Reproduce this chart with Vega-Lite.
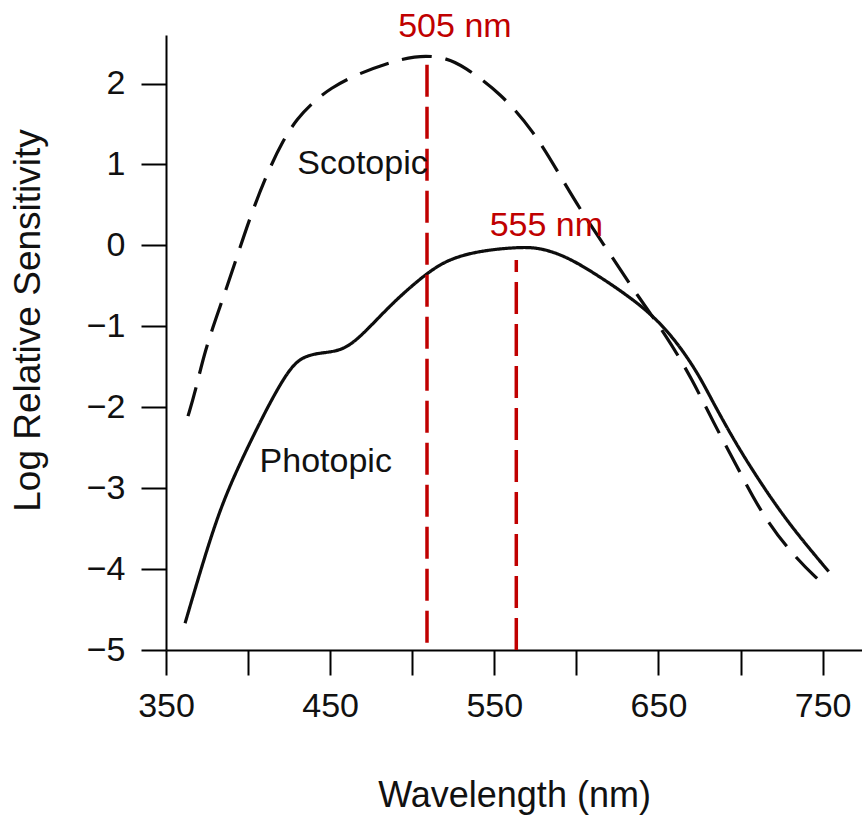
{
  "$schema": "https://vega.github.io/schema/vega-lite/v6.json",
  "width": 696,
  "height": 615,
  "autosize": "none",
  "padding": {"left": 166, "top": 35, "right": 0, "bottom": 165},
  "background": "white",
  "config": {
    "view": {"stroke": null},
    "font": "Liberation Sans",
    "axis": {"grid": false, "domainColor": "#000", "domainWidth": 2, "tickColor": "#000", "tickWidth": 2, "tickSize": 25, "labelColor": "#111", "titleColor": "#111", "labelFont": "Liberation Sans", "titleFont": "Liberation Sans", "labelFontSize": 34, "titleFontWeight": "normal", "labelFlush": false}
  },
  "datasets": {
    "curves": [
      {"series": "Photopic", "wl": 361.6, "val": -4.67},
      {"series": "Photopic", "wl": 372.6, "val": -3.91},
      {"series": "Photopic", "wl": 382.9, "val": -3.26},
      {"series": "Photopic", "wl": 393.3, "val": -2.77},
      {"series": "Photopic", "wl": 403, "val": -2.36},
      {"series": "Photopic", "wl": 413.4, "val": -1.94},
      {"series": "Photopic", "wl": 423.8, "val": -1.57},
      {"series": "Photopic", "wl": 431.7, "val": -1.39},
      {"series": "Photopic", "wl": 442, "val": -1.33},
      {"series": "Photopic", "wl": 456, "val": -1.31},
      {"series": "Photopic", "wl": 466.5, "val": -1.17},
      {"series": "Photopic", "wl": 482, "val": -0.84},
      {"series": "Photopic", "wl": 493, "val": -0.62},
      {"series": "Photopic", "wl": 509, "val": -0.34},
      {"series": "Photopic", "wl": 523, "val": -0.16},
      {"series": "Photopic", "wl": 543, "val": -0.06},
      {"series": "Photopic", "wl": 566, "val": -0.02},
      {"series": "Photopic", "wl": 578, "val": -0.03},
      {"series": "Photopic", "wl": 594.5, "val": -0.14},
      {"series": "Photopic", "wl": 614.6, "val": -0.39},
      {"series": "Photopic", "wl": 634.8, "val": -0.67},
      {"series": "Photopic", "wl": 651, "val": -0.95},
      {"series": "Photopic", "wl": 665, "val": -1.30},
      {"series": "Photopic", "wl": 675.6, "val": -1.64},
      {"series": "Photopic", "wl": 681.7, "val": -1.88},
      {"series": "Photopic", "wl": 695.7, "val": -2.40},
      {"series": "Photopic", "wl": 712, "val": -2.93},
      {"series": "Photopic", "wl": 730.5, "val": -3.47},
      {"series": "Photopic", "wl": 753.7, "val": -4.03},
      {"series": "Scotopic", "wl": 363.4, "val": -2.11},
      {"series": "Scotopic", "wl": 367.7, "val": -1.82},
      {"series": "Scotopic", "wl": 373.8, "val": -1.29},
      {"series": "Scotopic", "wl": 382.9, "val": -0.76},
      {"series": "Scotopic", "wl": 392, "val": -0.22},
      {"series": "Scotopic", "wl": 401.2, "val": 0.35},
      {"series": "Scotopic", "wl": 411.6, "val": 0.89},
      {"series": "Scotopic", "wl": 421.3, "val": 1.30},
      {"series": "Scotopic", "wl": 430, "val": 1.57},
      {"series": "Scotopic", "wl": 439.6, "val": 1.77},
      {"series": "Scotopic", "wl": 450, "val": 1.94},
      {"series": "Scotopic", "wl": 466.5, "val": 2.12},
      {"series": "Scotopic", "wl": 493, "val": 2.31},
      {"series": "Scotopic", "wl": 509, "val": 2.35},
      {"series": "Scotopic", "wl": 521, "val": 2.31},
      {"series": "Scotopic", "wl": 531, "val": 2.22},
      {"series": "Scotopic", "wl": 554, "val": 1.88},
      {"series": "Scotopic", "wl": 574, "val": 1.41},
      {"series": "Scotopic", "wl": 589, "val": 0.90},
      {"series": "Scotopic", "wl": 603.6, "val": 0.40},
      {"series": "Scotopic", "wl": 620.7, "val": -0.11},
      {"series": "Scotopic", "wl": 637.8, "val": -0.64},
      {"series": "Scotopic", "wl": 655, "val": -1.12},
      {"series": "Scotopic", "wl": 670.7, "val": -1.66},
      {"series": "Scotopic", "wl": 683.5, "val": -2.19},
      {"series": "Scotopic", "wl": 697.6, "val": -2.72},
      {"series": "Scotopic", "wl": 711, "val": -3.25},
      {"series": "Scotopic", "wl": 728, "val": -3.74},
      {"series": "Scotopic", "wl": 747, "val": -4.13},
      {"series": "Scotopic", "wl": 753, "val": -4.22}
    ],
    "rules": [
      {"wl": 509, "y1": -4.91, "y2": 2.28},
      {"wl": 563.4, "y1": -5, "y2": -0.18}
    ],
    "labels": [
      {"wl": 526, "val": 2.70, "text": "505 nm", "kind": "peak"},
      {"wl": 581.7, "val": 0.24, "text": "555 nm", "kind": "peak"},
      {"wl": 430, "val": 1.01, "text": "Scotopic", "kind": "curve"},
      {"wl": 407, "val": -2.68, "text": "Photopic", "kind": "curve"}
    ]
  },
  "layer": [
    {
      "data": {"name": "curves"},
      "mark": {"type": "line", "interpolate": "basis", "strokeWidth": 3.2, "color": "#0d0d0d"},
      "encoding": {
        "x": {"field": "wl", "type": "quantitative", "scale": {"domain": [350, 774], "nice": false, "zero": false},
          "axis": {"values": [350, 400, 450, 500, 550, 600, 650, 700, 750], "labelExpr": "datum.value % 100 == 50 ? datum.label : ''", "labelPadding": 14, "title": "Wavelength (nm)", "titleFontSize": 36, "titleBaseline": "middle", "titleY": 145}},
        "y": {"field": "val", "type": "quantitative", "scale": {"domain": [-5, 2.6], "nice": false, "zero": false},
          "axis": {"values": [-5, -4, -3, -2, -1, 0, 1, 2], "format": "d", "labelPadding": 16, "title": "Log Relative Sensitivity", "titleFontSize": 37, "titleAngle": -90, "titleBaseline": "middle", "titleAlign": "center", "titleX": -138, "titleY": 285}},
        "detail": {"field": "series"},
        "strokeDash": {"field": "series", "type": "nominal", "scale": {"domain": ["Photopic", "Scotopic"], "range": [[1, 0], [30, 14]]}, "legend": null}
      }
    },
    {
      "data": {"name": "rules"},
      "mark": {"type": "rule", "color": "#c00000", "strokeWidth": 3.5, "strokeDash": [32, 10]},
      "encoding": {
        "x": {"field": "wl", "type": "quantitative"},
        "y": {"field": "y1", "type": "quantitative"},
        "y2": {"field": "y2"}
      }
    },
    {
      "data": {"name": "labels"},
      "transform": [{"filter": "datum.kind == 'peak'"}],
      "mark": {"type": "text", "fontSize": 34, "color": "#c00000", "baseline": "middle", "align": "center", "font": "Liberation Sans"},
      "encoding": {
        "x": {"field": "wl", "type": "quantitative"},
        "y": {"field": "val", "type": "quantitative"},
        "text": {"field": "text"}
      }
    },
    {
      "data": {"name": "labels"},
      "transform": [{"filter": "datum.kind == 'curve'"}],
      "mark": {"type": "text", "fontSize": 34, "color": "#111", "baseline": "middle", "align": "left", "font": "Liberation Sans"},
      "encoding": {
        "x": {"field": "wl", "type": "quantitative"},
        "y": {"field": "val", "type": "quantitative"},
        "text": {"field": "text"}
      }
    }
  ]
}
